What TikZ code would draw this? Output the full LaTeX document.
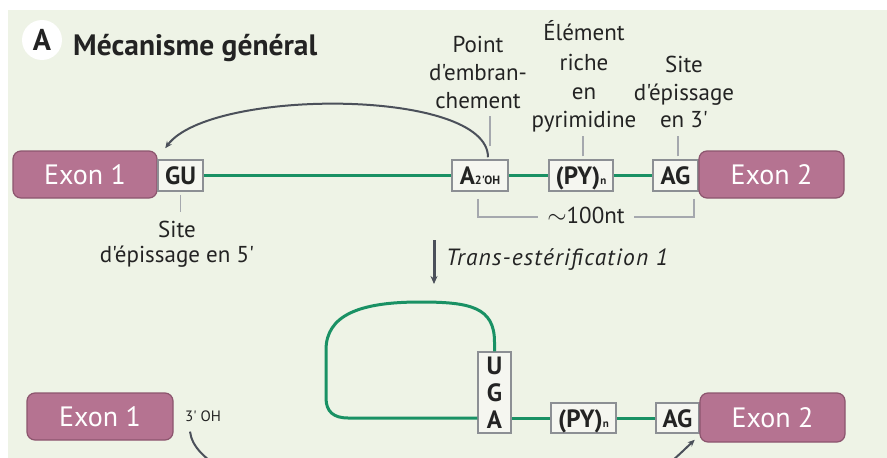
\documentclass[tikz,border=0pt]{standalone}
\usepackage{fontspec}
\setmainfont{PT Sans}[Ligatures=TeXOff]
\usetikzlibrary{arrows.meta,calc}
\definecolor{bg}{RGB}{238,243,230}
\definecolor{exonfill}{RGB}{181,115,145}
\definecolor{exondraw}{RGB}{140,85,110}
\definecolor{boxdraw}{RGB}{140,143,148}
\definecolor{boxfill}{RGB}{245,246,240}
\definecolor{rna}{RGB}{25,145,100}
\definecolor{arr}{RGB}{75,80,90}
\definecolor{tickc}{RGB}{165,168,174}
\definecolor{txt}{RGB}{35,35,35}
\begin{document}
\begin{tikzpicture}[x=1pt,y=-1pt,
 exon/.style={draw=exondraw, line width=1.2pt, fill=exonfill, rounded corners=8pt, text=white,
   font=\fontsize{28}{28}\selectfont, inner sep=0pt, text height=20pt, text depth=0pt},
 sbox/.style={draw=boxdraw, line width=1.5pt, fill=boxfill, inner sep=0pt, text=txt,
   font=\bfseries\fontsize{25}{27}\selectfont},
 tb/.style={text height=18pt, text depth=0pt},
 rnaline/.style={draw=rna, line width=3pt, line join=round},
 lbl/.style={anchor=base, inner sep=0pt, text=txt, font=\fontsize{23}{28}\selectfont},
 tick/.style={draw=tickc, line width=1.5pt},
 curvearr/.style={draw=arr, line width=2pt, -{Stealth[length=7pt,width=6pt]}},
]
\useasboundingbox (0,0) rectangle (887,458);
\fill[bg] (8,10) rectangle (887,458);

% title
\node[circle, fill=white, minimum size=40pt, inner sep=0pt, text=txt,
  font=\bfseries\fontsize{30}{30}\selectfont, text height=21pt, text depth=0pt] (circ) at (42,40) {A};
\node[anchor=base west, inner sep=0pt, text=txt, font=\bfseries\fontsize{29.5}{29.5}\selectfont] (title) at (73,55) {Mécanisme général};

% row 1
\node[exon, minimum width=144pt, minimum height=47pt] (ex1) at (85,174.5) {Exon 1};
\node[sbox, tb, minimum width=45pt, minimum height=31pt] (GU) at (180.5,175.5) {GU};
\node[sbox, tb, minimum width=56pt, minimum height=31pt] (A) at (480,175.5) {A{\fontsize{12}{12}\selectfont 2'OH}};
\node[sbox, tb, minimum width=64pt, minimum height=31pt] (PY) at (581,175.5) {(PY){\fontsize{11}{11}\selectfont n}};
\node[sbox, tb, minimum width=45pt, minimum height=31pt] (AG) at (675.5,175.5) {AG};
\node[exon, minimum width=145pt, minimum height=47pt] (ex2) at (771.5,174.5) {Exon 2};
\draw[rnaline] (GU.east) -- (A.west);
\draw[rnaline] (A.east) -- (PY.west);
\draw[rnaline] (PY.east) -- (AG.west);

% labels row 1
\node[lbl] (pb1) at (478,52) {Point};
\node[lbl] (pb2) at (478,80) {d'embran-};
\node[lbl] (pb3) at (478,108) {chement};
\node[lbl] (py1) at (584,40) {Élément};
\node[lbl] (py2) at (584,70) {riche};
\node[lbl] (py3) at (584,99) {en};
\node[lbl] (py4) at (584,127) {pyrimidine};
\node[lbl] (s31) at (684,72) {Site};
\node[lbl] (s32) at (684,100) {d'épissage};
\node[lbl] (s33) at (684,127) {en 3'};
\node[lbl] (s51) at (177,237) {Site};
\node[lbl] (s52) at (177,262) {d'épissage en 5'};

\draw[tick] ($(A.north)+(10,-13)$) -- ($(A.north)+(10,-43)$);
\draw[tick] ($(PY.north)+(2,-3)$) -- ($(PY.north)+(2,-23)$);
\draw[tick] ($(AG.north)+(2.5,-3)$) -- ($(AG.north)+(2.5,-23)$);
\draw[tick] ($(GU.south)+(0,3)$) -- ($(GU.south)+(0,20)$);

% ~100nt bracket
\node[lbl, font=\fontsize{23}{28}\selectfont] (nt) at (586,223) {$\sim$100nt};
\draw[tick] ($(A.south)+(-2,7)$) |- ($(nt.west)+(-9,2)$);
\draw[tick] ($(AG.south east)+(-5,7)$) |- ($(nt.east)+(9,2)$);

% branch arrow
\draw[curvearr] ($(A.north)+(8,-2)$) .. controls (488,88) and (210,88) .. ($(GU.north west)+(8,-11)$);

% trans-esterification 1
\coordinate (t1) at (434,240);
\coordinate (t2) at (434,284);
\draw[draw=arr, line width=3pt, -{Stealth[length=8pt,width=7pt]}] (t1) -- (t2);
\node[anchor=base west, inner sep=0pt, text=txt, font=\itshape\fontsize{23.5}{28}\selectfont\addfontfeature{LetterSpace=5}] (trans) at (446,265) {Trans-estérification 1};

% row 2
\node[exon, minimum width=146pt, minimum height=47pt] (ex1b) at (100,416.5) {Exon 1};
\node[inner sep=0pt, text=txt, font=\fontsize{15}{15}\selectfont] (OH) at (203,416) {3' OH};
\node[sbox, minimum width=33pt, minimum height=81pt, align=center] (UGA) at (494.5,392.5) {U\\G\\A};
\node[sbox, tb, minimum width=65pt, minimum height=30pt] (PY2) at (583.5,418) {(PY){\fontsize{11}{11}\selectfont n}};
\node[sbox, tb, minimum width=43pt, minimum height=30pt] (AG2) at (677.5,418) {AG};
\node[exon, minimum width=145pt, minimum height=49pt] (ex2b) at (772.5,417.5) {Exon 2};
\draw[rnaline] (UGA.east |- PY2.west) -- (PY2.west);
\draw[rnaline] (PY2.east) -- (AG2.west);
\draw[rnaline] (UGA.north) -- (494.5,342) .. controls (494.5,307) and (470,302) .. (420,302)
  .. controls (360,302) and (326,315) .. (326,350) -- (326,398)
  .. controls (326,412) and (334,418) .. (348,418) -- (UGA.west |- PY2.west);

% trans-esterification 2 (cut by frame)
\coordinate (c1) at (232,475);
\coordinate (c2) at (655,475);
\draw[draw=arr, line width=2pt] ($(OH.south)+(-13,10)$) .. controls (192,447) and (205,460) .. (c1);
\draw[curvearr] (c2) .. controls (672,462) and (686,448) .. ($(AG2.south east)+(-5,6)$);
\end{tikzpicture}
\end{document}
